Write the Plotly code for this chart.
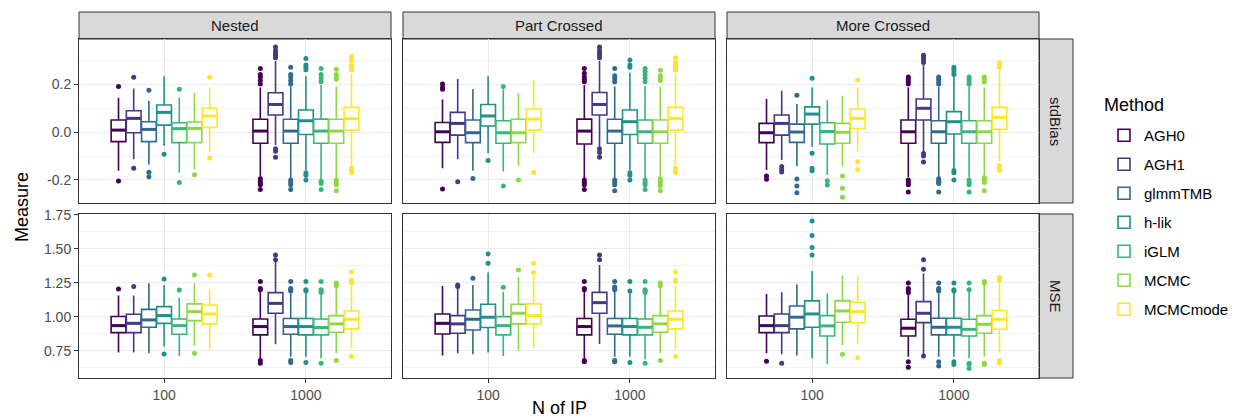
import plotly.graph_objects as go

W, H = 1247, 419

methods = ["AGH0", "AGH1", "glmmTMB", "h-lik", "iGLM", "MCMC", "MCMCmode"]
colors = ["#440154", "#443A83", "#31688E", "#21908C", "#35B779", "#8FD744", "#FDE725"]
designs = ["Nested", "Part Crossed", "More Crossed"]
measures = ["stdBias", "MSE"]
n_labels = ["100", "1000"]

# rows: [lower whisker, q1, median, q3, upper whisker] per method
nested_sb_100 = [[-0.161, -0.040, 0.008, 0.050, 0.143], [-0.114, -0.003, 0.057, 0.089, 0.182],
                 [-0.135, -0.040, 0.011, 0.043, 0.130], [-0.057, 0.029, 0.082, 0.113, 0.233],
                 [-0.170, -0.044, 0.014, 0.039, 0.144], [-0.155, -0.044, 0.015, 0.042, 0.164],
                 [-0.082, 0.019, 0.067, 0.099, 0.186]]
nested_sb_100_out = [[0.190, -0.204], [0.228, -0.151], [0.174, -0.168, -0.186], [-0.093],
                     [0.178, -0.210], [-0.178], [0.228, -0.108]]
nested_sb_1000 = [[-0.186, -0.047, 0.004, 0.053, 0.186], [-0.054, 0.071, 0.115, 0.164, 0.296],
                  [-0.193, -0.047, 0.004, 0.053, 0.190], [-0.158, -0.010, 0.047, 0.092, 0.233],
                  [-0.197, -0.047, 0.004, 0.054, 0.196], [-0.197, -0.047, 0.004, 0.053, 0.190],
                  [-0.138, 0.008, 0.056, 0.103, 0.244]]
nested_sb_1000_out = [[0.200, 0.215, 0.230, 0.240, 0.265, -0.195, -0.205, -0.215, -0.220, -0.240],
                      [0.310, 0.320, 0.330, 0.340, 0.355, -0.070, -0.080, -0.105],
                      [0.200, 0.215, 0.230, 0.240, 0.270, -0.200, -0.210, -0.220, -0.240],
                      [0.260, 0.270, 0.280, 0.307, -0.170, -0.180, -0.200],
                      [0.210, 0.225, 0.240, 0.265, -0.205, -0.215, -0.240],
                      [0.220, 0.230, 0.240, 0.262, -0.200, -0.210, -0.220, -0.245],
                      [0.260, 0.270, 0.280, 0.300, 0.315, -0.150, -0.160, -0.170]]

part_sb_100 = [[-0.151, -0.043, 0.001, 0.040, 0.136], [-0.114, -0.013, 0.036, 0.082, 0.221],
               [-0.161, -0.044, -0.003, 0.050, 0.179], [-0.089, 0.025, 0.067, 0.115, 0.233],
               [-0.165, -0.047, -0.003, 0.047, 0.178], [-0.142, -0.044, -0.003, 0.053, 0.161],
               [-0.086, 0.008, 0.054, 0.096, 0.217]]
part_sb_100_out = [[0.178, 0.186, 0.200, -0.238], [-0.207], [-0.194], [-0.119],
                   [0.190, -0.225], [-0.200], [-0.169]]
part_sb_1000 = [[-0.193, -0.050, 0.004, 0.054, 0.196], [-0.061, 0.071, 0.115, 0.165, 0.296],
                [-0.193, -0.047, 0.004, 0.053, 0.190], [-0.158, -0.010, 0.043, 0.092, 0.247],
                [-0.197, -0.047, 0.001, 0.050, 0.192], [-0.186, -0.047, 0.001, 0.050, 0.190],
                [-0.138, 0.008, 0.057, 0.103, 0.242]]
part_sb_1000_out = [[0.210, 0.220, 0.230, 0.245, 0.265, -0.200, -0.210, -0.220, -0.240],
                    [0.310, 0.320, 0.330, 0.340, 0.355, -0.070, -0.085, -0.105],
                    [0.210, 0.224, 0.235, 0.265, -0.200, -0.210, -0.220, -0.245],
                    [0.270, 0.280, 0.300, -0.170, -0.180, -0.200],
                    [0.210, 0.224, 0.238, 0.251, 0.265, -0.200, -0.210, -0.220, -0.240],
                    [0.215, 0.228, 0.235, 0.258, -0.195, -0.205, -0.215, -0.225, -0.245],
                    [0.258, 0.268, 0.278, 0.290, 0.310, -0.150, -0.160, -0.170]]

more_sb_100 = [[-0.158, -0.044, -0.003, 0.036, 0.138], [-0.117, -0.013, 0.036, 0.071, 0.172],
               [-0.142, -0.043, 0.000, 0.033, 0.117], [-0.061, 0.033, 0.075, 0.105, 0.186],
               [-0.179, -0.050, 0.002, 0.039, 0.133], [-0.144, -0.047, -0.001, 0.036, 0.151],
               [-0.079, 0.015, 0.057, 0.096, 0.186]]
more_sb_100_out = [[-0.183, -0.197], [-0.144, -0.156, -0.167], [0.153, -0.196, -0.225, -0.253],
                   [0.224, -0.089, -0.151, -0.162], [-0.203, -0.221], [-0.183, -0.235, -0.272],
                   [0.217, -0.124, -0.156]]
more_sb_1000 = [[-0.189, -0.047, 0.001, 0.050, 0.186], [-0.082, 0.050, 0.099, 0.138, 0.282],
                [-0.189, -0.047, 0.001, 0.047, 0.190], [-0.151, -0.008, 0.043, 0.085, 0.231],
                [-0.189, -0.047, 0.001, 0.047, 0.190], [-0.183, -0.047, 0.001, 0.047, 0.186],
                [-0.124, 0.011, 0.061, 0.103, 0.258]]
more_sb_1000_out = [[0.200, 0.210, 0.220, 0.230, -0.200, -0.210, -0.220, -0.250],
                    [0.290, 0.300, 0.310, 0.320, -0.090, -0.100, -0.125],
                    [0.200, 0.210, 0.220, 0.230, -0.195, -0.205, -0.210, -0.215, -0.250],
                    [0.240, 0.250, 0.260, 0.270, -0.160, -0.170, -0.200],
                    [0.200, 0.210, 0.220, 0.230, -0.200, -0.210, -0.220, -0.250],
                    [0.210, 0.220, 0.230, -0.190, -0.200, -0.210, -0.245],
                    [0.270, 0.280, 0.290, -0.140, -0.150, -0.160]]

nested_mse_100 = [[0.738, 0.885, 0.936, 1.003, 1.157], [0.738, 0.885, 0.953, 1.020, 1.157],
                  [0.733, 0.924, 0.978, 1.056, 1.248], [0.782, 0.953, 1.010, 1.076, 1.235],
                  [0.713, 0.873, 0.936, 0.985, 1.142], [0.789, 0.973, 1.039, 1.096, 1.248],
                  [0.762, 0.949, 1.022, 1.088, 1.203]]
nested_mse_100_out = [[1.206], [1.223], [], [1.279, 0.728], [1.199], [1.309, 0.733], [1.309]]
nested_mse_1000 = [[0.689, 0.868, 0.929, 0.985, 1.186], [0.800, 1.027, 1.100, 1.179, 1.414],
                   [0.708, 0.873, 0.929, 0.988, 1.174], [0.708, 0.868, 0.929, 0.988, 1.174],
                   [0.696, 0.868, 0.922, 0.985, 1.174], [0.733, 0.887, 0.949, 1.010, 1.211],
                   [0.770, 0.912, 0.983, 1.044, 1.228]]
nested_mse_1000_out = [[1.200, 1.210, 1.260, 0.680, 0.660], [1.420, 1.455],
                       [1.190, 1.200, 1.210, 1.260, 0.680, 0.665], [1.190, 1.200, 1.260, 0.665],
                       [1.180, 1.190, 1.200, 1.260, 0.660], [1.230, 1.240, 1.250, 0.680],
                       [1.250, 1.270, 1.330, 0.710]]

part_mse_100 = [[0.716, 0.875, 0.953, 1.022, 1.228], [0.733, 0.880, 0.949, 1.010, 1.210],
                [0.725, 0.904, 0.983, 1.051, 1.235], [0.738, 0.922, 0.998, 1.093, 1.326],
                [0.713, 0.868, 0.936, 1.002, 1.186], [0.752, 0.949, 1.027, 1.093, 1.292],
                [0.770, 0.949, 1.010, 1.096, 1.301]]
part_mse_100_out = [[], [1.223, 1.235], [1.284], [1.395, 1.463], [1.218], [1.346], [1.326, 1.395]]
part_mse_1000 = [[0.696, 0.868, 0.929, 0.988, 1.186], [0.801, 1.027, 1.105, 1.181, 1.382],
                 [0.708, 0.873, 0.934, 0.988, 1.186], [0.708, 0.868, 0.929, 0.988, 1.186],
                 [0.689, 0.868, 0.924, 0.985, 1.174], [0.733, 0.887, 0.949, 1.010, 1.218],
                 [0.762, 0.912, 0.983, 1.044, 1.228]]
part_mse_1000_out = [[1.200, 1.210, 1.260, 0.680, 0.670], [1.420, 1.455],
                     [1.200, 1.210, 1.220, 1.260, 0.680, 0.670], [1.190, 1.260, 0.665],
                     [1.180, 1.190, 1.200, 1.260, 0.660], [1.230, 1.250, 0.680],
                     [1.260, 1.270, 1.330, 0.710]]

more_mse_100 = [[0.733, 0.885, 0.936, 1.007, 1.169], [0.725, 0.885, 0.936, 1.022, 1.181],
                [0.716, 0.912, 0.998, 1.081, 1.240], [0.696, 0.924, 1.022, 1.118, 1.338],
                [0.652, 0.860, 0.934, 1.010, 1.174], [0.794, 0.961, 1.044, 1.118, 1.304],
                [0.806, 0.958, 1.039, 1.108, 1.304]]
more_mse_100_out = [[0.674], [0.659], [], [1.456, 1.510, 1.598, 1.706], [], [0.725], [0.701]]
more_mse_1000 = [[0.708, 0.860, 0.917, 0.983, 1.169], [0.725, 0.958, 1.027, 1.113, 1.320],
                 [0.708, 0.868, 0.924, 0.990, 1.174], [0.708, 0.868, 0.924, 0.990, 1.186],
                 [0.696, 0.860, 0.909, 0.983, 1.191], [0.708, 0.880, 0.946, 1.010, 1.248],
                 [0.738, 0.909, 0.983, 1.047, 1.260]]
more_mse_1000_out = [[1.180, 1.200, 1.210, 1.250, 0.670, 0.630], [1.350, 1.420, 0.713],
                     [1.190, 1.200, 1.210, 1.250, 0.670, 0.640], [1.190, 1.200, 1.250, 0.670, 0.650],
                     [1.200, 1.250, 0.660, 0.650, 0.620], [1.250, 1.260, 0.660, 0.650],
                     [1.270, 1.280, 1.290, 0.680, 0.660]]

panels = {
    ("stdBias", "Nested"): [(nested_sb_100, nested_sb_100_out), (nested_sb_1000, nested_sb_1000_out)],
    ("stdBias", "Part Crossed"): [(part_sb_100, part_sb_100_out), (part_sb_1000, part_sb_1000_out)],
    ("stdBias", "More Crossed"): [(more_sb_100, more_sb_100_out), (more_sb_1000, more_sb_1000_out)],
    ("MSE", "Nested"): [(nested_mse_100, nested_mse_100_out), (nested_mse_1000, nested_mse_1000_out)],
    ("MSE", "Part Crossed"): [(part_mse_100, part_mse_100_out), (part_mse_1000, part_mse_1000_out)],
    ("MSE", "More Crossed"): [(more_mse_100, more_mse_100_out), (more_mse_1000, more_mse_1000_out)],
}

# ---------- layout geometry (pixels) ----------
col_x = [(79, 391), (403, 715), (727, 1039)]
row_y = [(39, 203), (214, 378)]
strip_top = (12, 39)
strip_right = (1039, 1073)
FONT = "Liberation Sans, Arial, sans-serif"

def fx(x):
    return x / W

def fy(y):
    return 1 - y / H

fig = go.Figure()
n_m = len(methods)
dodge = 0.75 / n_m
y_ranges = {"stdBias": [-0.296, 0.388], "MSE": [0.551, 1.757]}
y_ticks = {"stdBias": ([-0.2, 0.0, 0.2], ["-0.2", "0.0", "0.2"], 0.1),
           "MSE": ([0.75, 1.0, 1.25, 1.5, 1.75], ["0.75", "1.00", "1.25", "1.50", "1.75"], 0.125)}

for r, meas in enumerate(measures):
    for c, des in enumerate(designs):
        k = r * 3 + c + 1
        xa = "x" if k == 1 else f"x{k}"
        ya = "y" if k == 1 else f"y{k}"
        groups = panels[(meas, des)]
        for i, m in enumerate(methods):
            xs = [g + 1 + (i - (n_m - 1) / 2) * dodge for g in range(len(n_labels))]
            st = [groups[g][0][i] for g in range(len(n_labels))]
            fig.add_trace(go.Box(
                x=xs, lowerfence=[s[0] for s in st], q1=[s[1] for s in st],
                median=[s[2] for s in st], q3=[s[3] for s in st],
                upperfence=[s[4] for s in st], width=dodge * 0.97,
                whiskerwidth=0, boxpoints=False, fillcolor="white",
                line=dict(color=colors[i], width=1.6), name=m,
                legendgroup=m, showlegend=(k == 1), xaxis=xa, yaxis=ya,
                hoverinfo="skip"))
            # thicker median line (ggplot fatten)
            mx, my = [], []
            for g in range(len(n_labels)):
                mx += [xs[g] - dodge * 0.47, xs[g] + dodge * 0.47, None]
                my += [st[g][2], st[g][2], None]
            fig.add_trace(go.Scatter(x=mx, y=my, mode="lines",
                                     line=dict(color=colors[i], width=3),
                                     showlegend=False, legendgroup=m,
                                     xaxis=xa, yaxis=ya, hoverinfo="skip"))
            ox, oy = [], []
            for g in range(len(n_labels)):
                for v in groups[g][1][i]:
                    ox.append(xs[g])
                    oy.append(v)
            fig.add_trace(go.Scatter(x=ox, y=oy, mode="markers",
                                     marker=dict(color=colors[i], size=5, line=dict(width=0)),
                                     showlegend=False, legendgroup=m,
                                     xaxis=xa, yaxis=ya, hoverinfo="skip"))
        tv, tt, minor = y_ticks[meas]
        xkey = "xaxis" if k == 1 else f"xaxis{k}"
        ykey = "yaxis" if k == 1 else f"yaxis{k}"
        fig.layout[xkey] = dict(
            domain=[fx(col_x[c][0]), fx(col_x[c][1])], anchor=ya, automargin=False,
            range=[0.4, 2.6], tickvals=[1, 2], ticktext=n_labels,
            showticklabels=(r == 1), ticks="outside" if r == 1 else "",
            ticklen=4, tickcolor="#333333", tickwidth=1,
            tickfont=dict(family=FONT, size=14, color="#4D4D4D"),
            showgrid=True, gridcolor="#EBEBEB", gridwidth=1.3, zeroline=False,
            showline=True, mirror=True, linecolor="#333333", linewidth=1)
        fig.layout[ykey] = dict(
            domain=[fy(row_y[r][1]), fy(row_y[r][0])], anchor=xa, automargin=False,
            range=y_ranges[meas], tickvals=tv, ticktext=tt,
            showticklabels=(c == 0), ticks="outside" if c == 0 else "",
            ticklen=4, tickcolor="#333333", tickwidth=1,
            tickfont=dict(family=FONT, size=14, color="#4D4D4D"),
            showgrid=True, gridcolor="#EBEBEB", gridwidth=1.3, zeroline=False,
            minor=dict(dtick=minor, tick0=0, showgrid=True, gridcolor="#F2F2F2", gridwidth=0.8),
            showline=True, mirror=True, linecolor="#333333", linewidth=1)

shapes, annotations = [], []
for c, des in enumerate(designs):
    shapes.append(dict(type="rect", xref="paper", yref="paper",
                       x0=fx(col_x[c][0]), x1=fx(col_x[c][1]),
                       y0=fy(strip_top[1]), y1=fy(strip_top[0]),
                       fillcolor="#D9D9D9", line=dict(color="#333333", width=1), layer="below"))
    annotations.append(dict(text=des, xref="paper", yref="paper", showarrow=False,
                            x=fx((col_x[c][0] + col_x[c][1]) / 2), y=fy((strip_top[0] + strip_top[1]) / 2),
                            xanchor="center", yanchor="middle",
                            font=dict(family=FONT, size=15, color="#1A1A1A")))
for r, meas in enumerate(measures):
    shapes.append(dict(type="rect", xref="paper", yref="paper",
                       x0=fx(strip_right[0]), x1=fx(strip_right[1]),
                       y0=fy(row_y[r][1]), y1=fy(row_y[r][0]),
                       fillcolor="#D9D9D9", line=dict(color="#333333", width=1), layer="below"))
    annotations.append(dict(text=meas, xref="paper", yref="paper", showarrow=False, textangle=90,
                            x=fx((strip_right[0] + strip_right[1]) / 2), y=fy((row_y[r][0] + row_y[r][1]) / 2),
                            xanchor="center", yanchor="middle",
                            font=dict(family=FONT, size=15, color="#1A1A1A")))

annotations.append(dict(text="Measure", xref="paper", yref="paper", showarrow=False, textangle=-90,
                        x=fx(22), y=fy(207), xanchor="center", yanchor="middle",
                        font=dict(family=FONT, size=18, color="black")))
annotations.append(dict(text="N of IP", xref="paper", yref="paper", showarrow=False,
                        x=fx(559), y=fy(408), xanchor="center", yanchor="middle",
                        font=dict(family=FONT, size=18, color="black")))
annotations.append(dict(text="Method", xref="paper", yref="paper", showarrow=False,
                        x=fx(1102), y=fy(105), xanchor="left", yanchor="middle",
                        font=dict(family=FONT, size=18, color="black")))

fig.update_layout(
    width=W, height=H, margin=dict(l=0, r=0, t=0, b=0, autoexpand=False),
    paper_bgcolor="white", plot_bgcolor="white",
    shapes=shapes, annotations=annotations, boxmode="overlay",
    legend=dict(x=fx(1104), y=fy(119), xanchor="left", yanchor="top",
                font=dict(family=FONT, size=15, color="black"),
                tracegroupgap=6.5, itemwidth=30, bgcolor="rgba(0,0,0,0)"),
    font=dict(family=FONT),
)

fig.write_html("out.html")
